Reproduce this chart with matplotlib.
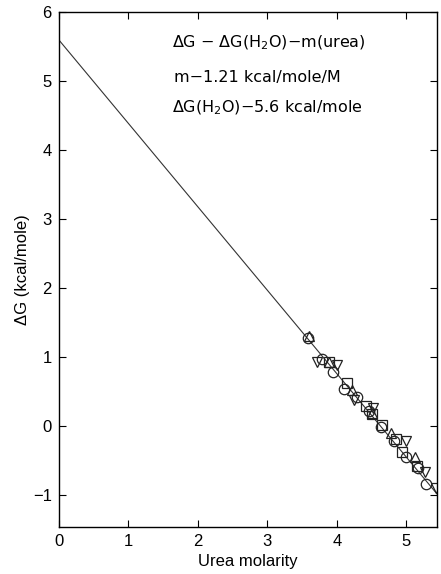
import numpy as np
import matplotlib
matplotlib.use("Agg")
import matplotlib.pyplot as plt

plt.rcParams["font.family"] = ["Liberation Sans", "DejaVu Sans"]

# free energy fit: dG = dG_H2O - m * [urea]
DG_H2O = 5.6
M_SLOPE = 1.21

# denaturation data, one set per marker shape
circ_x = [3.59, 3.78, 3.94, 4.10, 4.29, 4.46, 4.63, 4.82, 4.99, 5.17, 5.28]
circ_y = [1.28, 0.97, 0.78, 0.54, 0.42, 0.22, -0.01, -0.22, -0.45, -0.60, -0.84]
up_x = [3.60, 3.89, 4.22, 4.50, 4.78, 5.13]
up_y = [1.30, 0.93, 0.52, 0.19, -0.10, -0.45]
down_x = [3.71, 4.00, 4.25, 4.52, 5.00, 5.27, 5.43]
down_y = [0.93, 0.88, 0.38, 0.26, -0.22, -0.67, -0.90]
sq_x = [3.89, 4.14, 4.42, 4.50, 4.65, 4.85, 4.93, 5.15]
sq_y = [0.93, 0.62, 0.29, 0.17, 0.01, -0.18, -0.38, -0.57]

x_ticks = [0, 1, 2, 3, 4, 5]
y_ticks = [-1, 0, 1, 2, 3, 4, 5, 6]

fig = plt.figure(figsize=(4.41, 5.74), dpi=100)
ax = fig.add_axes([0.133, 0.082, 0.858, 0.897])

xmax = 5.44
xs = np.array([0, xmax])
ax.plot(xs, DG_H2O - M_SLOPE * xs, color="#333333", lw=0.8, zorder=1)

mk = dict(mfc="none", mec="#222222", mew=0.9, ms=7.5, ls="none", zorder=2)
ax.plot(circ_x, circ_y, marker="o", **mk)
ax.plot(up_x, up_y, marker="^", **mk)
ax.plot(down_x, down_y, marker="v", **mk)
ax.plot(sq_x, sq_y, marker="s", **mk)

ax.set_xlim(0, xmax)
ax.set_ylim(-1.46, 6)
ax.set_xticks(x_ticks)
ax.set_yticks(y_ticks)
ax.set_yticklabels(["\u22121", "0", "1", "2", "3", "4", "5", "6"])
ax.tick_params(direction="in", top=True, right=True, length=5, width=0.8,
               labelsize=12, pad=5)
for s in ax.spines.values():
    s.set_linewidth(1.0)

ax.set_xlabel("Urea molarity", fontsize=12, labelpad=4)
ax.set_ylabel("\u0394G (kcal/mole)", fontsize=12, labelpad=2)

# fit equation block, upper right
box = dict(transform=ax.transAxes, fontsize=11.5, va="center",
           family=["DejaVu Sans"])
ax.text(0.30, 0.940, "\u0394G \u2212 \u0394G(H$_2$O)\u2212m(urea)", **box)
ax.text(0.305, 0.872, "m\u22121.21 kcal/mole/M", **box)
ax.text(0.30, 0.814, "\u0394G(H$_2$O)\u22125.6 kcal/mole", **box)

fig.savefig("out.png", dpi=100)
